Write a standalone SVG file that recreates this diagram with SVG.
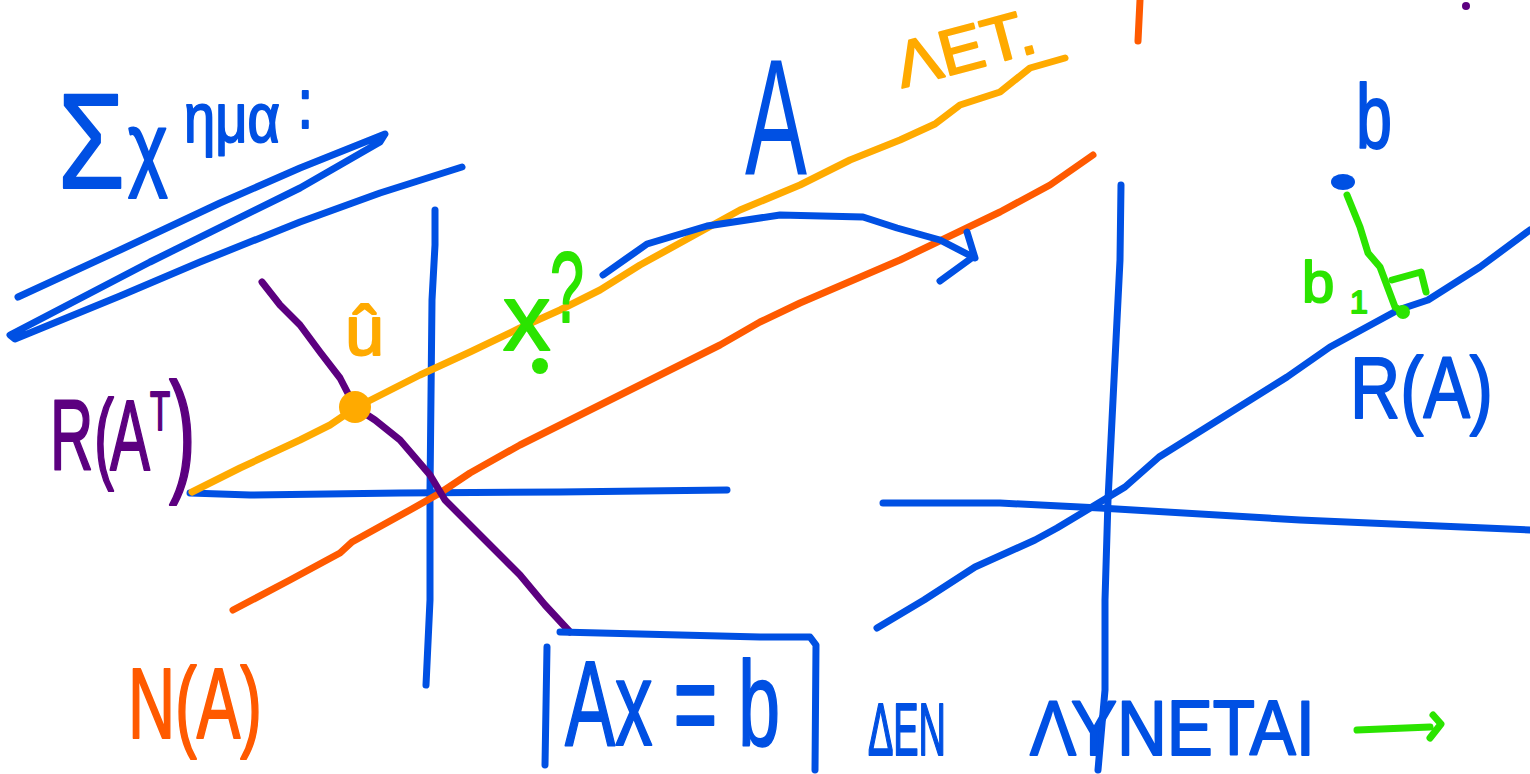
<svg xmlns="http://www.w3.org/2000/svg" width="1530" height="774" viewBox="0 0 1530 774">
<style>
.s{fill:none;stroke-linecap:round;stroke-linejoin:round;stroke-width:7}
.b{stroke:#0050E3}.o{stroke:#FFAA00}.r{stroke:#FF5A00}.p{stroke:#5C0080}.g{stroke:#2BE400}
.t{font-family:"Liberation Sans","DejaVu Sans",sans-serif;stroke-width:0;stroke-linejoin:round}
.k{stroke-width:2}
.tb{fill:#0050E3;stroke:#0050E3}.to{fill:#FFAA00;stroke:#FFAA00}.tr{fill:#FF5A00;stroke:#FF5A00}.tp{fill:#5C0080;stroke:#5C0080}.tg{fill:#2BE400;stroke:#2BE400}
</style>
<rect width="1530" height="774" fill="#fff"/>
<g id="connectors">
<path class="s b" d="M18,297 L120,250 L220,203 L300,168 L385,134 L380,142 L300,188 L150,262 L10,335 L15,339 L120,296 L200,262 L300,222 L380,193 L462,167"/>
<path class="s b" d="M190,493 L250,495 L400,493 L560,492 L727,490"/>
<path class="s b" d="M435,210 L435,245 L432,300 L430,490 L430,600 L426,685"/>
<path class="s o" d="M192,492 L240,468 L300,440 L330,425 L355,408 L420,375 L470,352 L520,328 L560,310 L600,290 L640,265 L700,232 L740,210 L800,185 L850,160 L900,140 L935,124 L960,105 L1000,92 L1030,68 L1065,58"/>
<path class="s r" d="M233,610 L290,580 L340,553 L352,542 L410,510 L440,493 L470,473 L520,445 L600,405 L660,375 L720,345 L760,322 L800,303 L900,260 L1000,212 L1050,185 L1093,155"/>
<path class="s r" d="M1140,0 L1138,41"/>
<path class="s p" d="M262,282 L280,305 L300,325 L320,352 L340,378 L355,407 L375,420 L400,440 L430,475 L445,500 L460,515 L490,545 L520,575 L545,605 L570,632"/>
<path class="s b" d="M603,275 L647,244 L707,226 L780,215 L863,217 L897,228 L940,240 L973,257 L940,281 M967,232 L975,258"/>
<path class="s b" d="M883,503 L1000,503 L1100,508 L1300,520 L1530,530"/>
<path class="s b" d="M1121,185 L1120,260 L1113,400 L1108,500 L1105,600 L1105,690 L1098,770"/>
<path class="s b" d="M877,628 L924,600 L975,567 L1035,540 L1057,528 L1082,513 L1125,487 L1159,457 L1223,417 L1287,377 L1330,347 L1398,310 L1428,300 L1480,267 L1530,230"/>
<path class="s g" d="M1347,195 L1360,227 L1368,253 L1380,267 L1395,307 L1403,312"/>
<path class="s g" d="M1392,280 L1421,272 L1426,292"/>
<path class="s b" d="M547,647 L545,765 M560,632 L680,635 L760,637 L810,637 L816,645 L815,770"/>
<path class="s g" d="M1357,730 L1430,727 M1433,715 L1441,724 L1430,738"/>
</g>
<g id="points">
<circle cx="355" cy="407" r="16" fill="#FFAA00"/>
<circle cx="540" cy="366" r="8" fill="#2BE400"/>
<ellipse cx="1343" cy="182" rx="12" ry="8" fill="#0050E3"/>
<circle cx="1403" cy="312" r="7" fill="#2BE400"/>
<circle cx="1466" cy="6" r="4" fill="#5C0080"/>
</g>
<g id="title">
<text class="t tb k" transform="scale(0.8,1)"><tspan x="72.5" y="188" font-size="135">Σ</tspan><tspan x="160" y="178" font-size="95">χ</tspan><tspan x="230" y="142" font-size="70">ημα</tspan><tspan x="372" y="128" font-size="70">:</tspan></text>
</g>
<g id="label-A"><text class="t tb" x="745" y="174" font-size="165" textLength="62" lengthAdjust="spacingAndGlyphs">A</text></g>
<g id="label-met"><text class="t to k" x="0" y="0" font-size="64" textLength="142" lengthAdjust="spacingAndGlyphs" transform="translate(902,88) rotate(-15)">ΛΕΤ.</text></g>
<g id="label-u"><text class="t to k" x="345" y="355" font-size="70">û</text></g>
<g id="label-x"><text class="t tg k" x="503" y="350" font-size="95">x</text><text class="t tg k" x="550" y="322" font-size="100" textLength="34" lengthAdjust="spacingAndGlyphs">?</text></g>
<g id="label-RAT">
<text class="t tp k" transform="scale(0.6,1)"><tspan x="83.3" y="470" font-size="100">R</tspan><tspan x="156.7" y="470" font-size="100">(</tspan><tspan x="183.3" y="470" font-size="100">A</tspan><tspan x="250" y="430" font-size="55">T</tspan><tspan x="281.7" y="477" font-size="135">)</tspan></text>
</g>
<g id="label-NA"><text class="t tr k" x="128" y="738" font-size="100" textLength="134" lengthAdjust="spacingAndGlyphs">N(A)</text></g>
<g id="label-b"><text class="t tb k" x="1356" y="148" font-size="90" textLength="36" lengthAdjust="spacingAndGlyphs">b</text></g>
<g id="label-b1"><text class="t tg k"><tspan x="1302" y="302" font-size="58">b</tspan><tspan x="1350" y="313" font-size="32">1</tspan></text></g>
<g id="label-RA"><text class="t tb k" x="1350" y="418" font-size="88" textLength="143" lengthAdjust="spacingAndGlyphs">R(A)</text></g>
<g id="box-Axb"><text class="t tb k" x="565" y="745" font-size="120" textLength="215" lengthAdjust="spacingAndGlyphs">Ax = b</text></g>
<g id="label-den"><text class="t tb k" x="868" y="755" font-size="74" textLength="78" lengthAdjust="spacingAndGlyphs">ΔΕΝ</text><text class="t tb k" x="1030" y="755" font-size="78" textLength="285" lengthAdjust="spacingAndGlyphs">ΛΥΝΕΤΑΙ</text></g>
</svg>
